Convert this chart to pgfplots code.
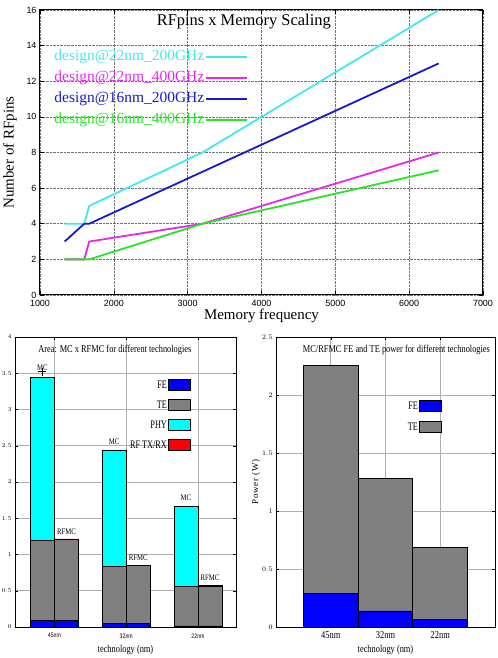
\documentclass[border=0pt]{standalone}
\usepackage{fontspec}
\setmainfont{Liberation Serif}
\setsansfont{Liberation Sans}
\newfontfamily\narrowserif[FakeStretch=0.8]{Liberation Serif}
\newfontfamily\narrowerserif[FakeStretch=0.72]{Liberation Serif}
\newfontfamily\narrowsans[FakeStretch=0.8]{Liberation Sans}
\newfontfamily\spacedserif[LetterSpace=8]{Liberation Serif}
\usepackage{pgfplots}
\pgfplotsset{compat=1.18}

% line colours (RF pin scaling)
\definecolor{cCyan}{RGB}{64,232,240}
\definecolor{cMag}{RGB}{232,40,232}
\definecolor{cBlue}{RGB}{24,24,208}
\definecolor{cGreen}{RGB}{40,228,40}
% bar colours
\definecolor{barFE}{RGB}{0,0,255}
\definecolor{barTE}{RGB}{128,128,128}
\definecolor{barPHY}{RGB}{0,255,255}
\definecolor{barRF}{RGB}{255,0,0}
\definecolor{gridgray}{RGB}{175,175,175}

\tikzset{barlabel/.style={font=\fontsize{8.5}{9}\selectfont\narrowserif}}

\begin{document}
\begin{tikzpicture}

% ---------------- RF pins versus memory frequency ----------------
\begin{axis}[
  at={(40bp,363bp)}, anchor=south west,
  scale only axis, width=443bp, height=285bp,
  xmin=1000, xmax=7000, ymin=0, ymax=16,
  xtick={1000,2000,...,7000}, ytick={0,2,...,16},
  grid=major, major grid style={densely dotted, black!55, line width=0.5bp},
  axis line style={line width=1bp},
  tick align=inside, major tick length=4bp,
  tick style={black, line width=0.5bp},
  tick label style={font=\fontsize{9}{10}\sffamily},
  xticklabel style={yshift=-2bp},
  /pgf/number format/assume math mode=true,
  /pgf/number format/1000 sep={},
  xlabel={Memory frequency},
  ylabel={Number of RFpins},
  label style={font=\fontsize{15}{16}\selectfont},
  xlabel style={at={(axis description cs:0.5,-0.073)}, anchor=center},
  ylabel style={at={(axis description cs:-0.068,0.5)}, anchor=center},
  title={RFpins x Memory Scaling},
  title style={at={(axis description cs:0.46,0.937)}, anchor=center,
               font=\fontsize{16.5}{17}\selectfont},
  legend plot pos=right,
  legend image code/.code={\draw[#1, solid, line width=1.8bp, draw opacity=1]
                           (0bp,0bp) -- (41bp,0bp);},
  legend cell align=right,
  legend style={at={(axis description cs:0.47,0.866)}, anchor=north east,
    draw=none, fill=none, font=\fontsize{15.5}{16}\selectfont,
    row sep=4bp, inner sep=0bp,
    nodes={inner sep=1bp, text height=11bp, text depth=4bp},
    /tikz/every even column/.append style={column sep=1bp}},
  every axis plot/.append style={line width=1.8bp},
]
\addplot[draw=cCyan] coordinates {(1333,4) (1600,4) (1666,5) (3200,8) (6400,16)};
\addlegendentry{\textcolor{cCyan}{design@22nm\_200GHz}}
\addplot[draw=cMag] coordinates {(1333,2) (1600,2) (1666,3) (3200,4) (6400,8)};
\addlegendentry{\textcolor{cMag}{design@22nm\_400GHz}}
\addplot[draw=cBlue] coordinates {(1333,3) (1600,4) (1666,4) (6400,13)};
\addlegendentry{\textcolor{cBlue}{design@16nm\_200GHz}}
\addplot[draw=cGreen] coordinates {(1333,2) (1600,2) (1666,2) (3200,4) (6400,7)};
\addlegendentry{\textcolor{cGreen}{design@16nm\_400GHz}}
\end{axis}

% ---------------- Area: MC versus RFMC ----------------
\begin{axis}[
  at={(15bp,31bp)}, anchor=south west,
  scale only axis, width=221bp, height=290bp,
  xmin=-0.55, xmax=2.53, ymin=0, ymax=4,
  ybar stacked, bar width=0.333,
  xtick={0,1,2}, xticklabels={45nm,32nm,22nm},
  ytick={0,0.5,...,4},
  grid=major, major grid style={gridgray, line width=0.6bp},
  axis line style={line width=0.9bp},
  tick align=inside, major tick length=3bp,
  tick style={black, line width=0.4bp},
  tick label style={font=\fontsize{6.5}{7}\selectfont\narrowsans},
  xticklabel style={yshift=-3bp},
  xlabel={technology (nm)},
  xlabel style={at={(axis description cs:0.5,-0.079)}, anchor=center,
                font=\fontsize{10.5}{11}\selectfont\narrowserif},
  title={Area: MC x RFMC for different technologies},
  title style={at={(axis description cs:0.452,0.934)}, anchor=center,
               font=\fontsize{10.5}{11}\selectfont\narrowserif},
  every axis plot/.append style={draw=black, line width=0.8bp},
  legend plot pos=right,
  legend image code/.code={\draw[#1] (0bp,-5.5bp) rectangle (22bp,5.5bp);},
  legend cell align=right,
  legend style={at={(axis description cs:0.796,0.855)}, anchor=north east,
    draw=none, fill=none, font=\fontsize{11.5}{12}\selectfont\narrowerserif,
    row sep=8bp, inner sep=0bp,
    nodes={inner sep=1bp, text height=8bp, text depth=2bp},
    /tikz/every even column/.append style={column sep=1bp}},
]
% MC bars at -1/6 of each group, RFMC bars at +1/6
\addplot[fill=barFE] coordinates {(-0.167,0.09) (0.167,0.09) (0.833,0.045) (1.167,0.045) (1.833,0.015) (2.167,0.015)};
\addlegendentry{FE}
\addplot[fill=barTE] coordinates {(-0.167,1.11) (0.167,1.12) (0.833,0.785) (1.167,0.80) (1.833,0.54) (2.167,0.55)};
\addlegendentry{TE}
\addplot[fill=barPHY] coordinates {(-0.167,2.24) (0.167,0) (0.833,1.61) (1.167,0) (1.833,1.105) (2.167,0)};
\addlegendentry{PHY}
\addplot[fill=barRF] coordinates {(-0.167,0) (0.167,0.005) (0.833,0) (1.167,0.005) (1.833,0) (2.167,0.005)};
\addlegendentry{RF TX/RX}
\end{axis}
% bar captions and the label point over the first MC bar
\begin{axis}[
  at={(15bp,31bp)}, anchor=south west,
  scale only axis, width=221bp, height=290bp,
  xmin=-0.55, xmax=2.53, ymin=0, ymax=4, hide axis,
]
\addplot[only marks, mark=+, mark size=4bp, mark options={black, line width=0.6bp}]
  coordinates {(-0.167,3.52)};
\node[barlabel] at (axis cs:-0.167,3.57) {MC};
\node[barlabel] at (axis cs:0.167,1.32) {RFMC};
\node[barlabel] at (axis cs:0.833,2.56) {MC};
\node[barlabel] at (axis cs:1.167,0.96) {RFMC};
\node[barlabel] at (axis cs:1.833,1.78) {MC};
\node[barlabel] at (axis cs:2.167,0.68) {RFMC};
\end{axis}

% ---------------- FE and TE power ----------------
\begin{axis}[
  at={(276bp,31bp)}, anchor=south west,
  scale only axis, width=219bp, height=290bp,
  xmin=-1, xmax=3, ymin=0, ymax=2.5,
  ybar stacked, bar width=1,
  xtick={0,1,2}, xticklabels={45nm,32nm,22nm},
  ytick={0,0.5,...,2.5},
  grid=major, major grid style={gridgray, line width=0.6bp},
  axis line style={line width=0.9bp},
  tick align=inside, major tick length=3bp,
  tick style={black, line width=0.4bp},
  yticklabel style={font=\fontsize{7}{8}\selectfont\narrowserif},
  xticklabel style={font=\fontsize{10.5}{11}\selectfont\narrowserif, yshift=-1bp},
  xlabel={technology (nm)},
  xlabel style={at={(axis description cs:0.5,-0.079)}, anchor=center,
                font=\fontsize{10.5}{11}\selectfont\narrowserif},
  ylabel={Power (W)},
  ylabel style={at={(axis description cs:-0.091,0.5)}, anchor=center,
                font=\fontsize{9}{10}\selectfont\spacedserif},
  title={MC/RFMC FE and TE power for different technologies},
  title style={at={(axis description cs:0.55,0.934)}, anchor=center,
               font=\fontsize{10.5}{11}\selectfont\narrowserif},
  every axis plot/.append style={draw=black, line width=0.8bp},
  legend plot pos=right,
  legend image code/.code={\draw[#1] (0bp,-5.5bp) rectangle (22bp,5.5bp);},
  legend cell align=right,
  legend style={at={(axis description cs:0.758,0.783)}, anchor=north east,
    draw=none, fill=none, font=\fontsize{11.5}{12}\selectfont\narrowerserif,
    row sep=9bp, inner sep=0bp,
    nodes={inner sep=1bp, text height=8bp, text depth=2bp},
    /tikz/every even column/.append style={column sep=1bp}},
]
\addplot[fill=barFE] coordinates {(0,0.288) (1,0.138) (2,0.066)};
\addlegendentry{FE}
\addplot[fill=barTE] coordinates {(0,1.967) (1,1.142) (2,0.619)};
\addlegendentry{TE}
\end{axis}

\pgfresetboundingbox
\path[use as bounding box] (0bp,0bp) rectangle (498bp,658bp);
\end{tikzpicture}
\end{document}
